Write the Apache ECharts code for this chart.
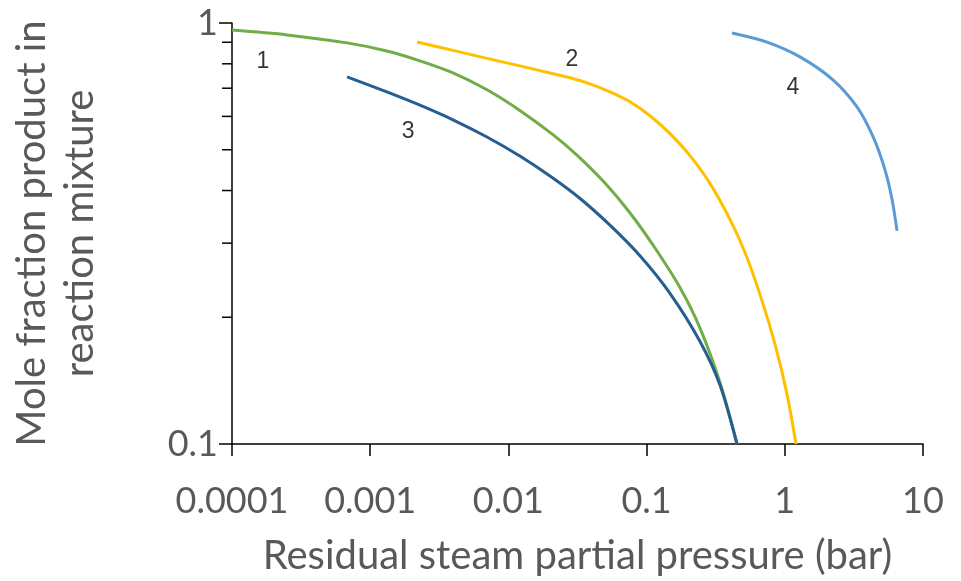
<!DOCTYPE html>
<html>
<head>
<meta charset="utf-8">
<script src="https://cdn.jsdelivr.net/npm/echarts@6/dist/echarts.min.js"></script>
<style>
  html, body { margin: 0; padding: 0; background: #fff; }
  #chart { width: 961px; height: 581px; }
</style>
</head>
<body>
<div id="chart"></div>
<script>
// curve 1 (green)
const curve1 = [
  [0.0001, 0.962], [0.00025, 0.937], [0.00068, 0.897], [0.00132, 0.858],
  [0.00229, 0.813], [0.00397, 0.761], [0.0070, 0.694], [0.0121, 0.620],
  [0.021, 0.543], [0.0319, 0.483], [0.050, 0.4166], [0.0759, 0.3537],
  [0.115, 0.2921], [0.175, 0.2348], [0.243, 0.1888], [0.34, 0.1398],
  [0.451, 0.1]
];
// curve 2 (yellow)
const curve2 = [
  [0.00218, 0.901], [0.00397, 0.861], [0.0070, 0.824], [0.0121, 0.791],
  [0.020, 0.761], [0.0279, 0.741], [0.0389, 0.717], [0.0543, 0.686],
  [0.0759, 0.650], [0.1058, 0.602], [0.1476, 0.546], [0.206, 0.484],
  [0.288, 0.4153], [0.4015, 0.3413], [0.515, 0.2851], [0.661, 0.2267],
  [0.849, 0.1726], [1.037, 0.1314], [1.205, 0.1]
];
// curve 3 (dark blue)
const curve3 = [
  [0.00068, 0.745], [0.00132, 0.686], [0.00229, 0.638], [0.00397, 0.589],
  [0.0070, 0.536], [0.0121, 0.483], [0.020, 0.433], [0.033, 0.383],
  [0.0543, 0.331], [0.0895, 0.280], [0.1476, 0.228], [0.243, 0.1754],
  [0.34, 0.1379], [0.451, 0.1]
];
// curve 4 (light blue)
const curve4 = [
  [0.415, 0.947], [0.743, 0.901], [1.288, 0.831], [2.23, 0.733],
  [3.33, 0.632], [4.35, 0.537], [5.31, 0.448], [5.97, 0.381], [6.49, 0.321]
];
const curveNames = ['1', '2', '3', '4'];
const curveLabelPos = [
  [0.000167, 0.808], [0.0288, 0.817], [0.00188, 0.552], [1.146, 0.701]
];
const xTickLabels = ['0.0001', '0.001', '0.01', '0.1', '1', '10'];
const yTickLabels = ['0.1', '1'];
const yMinorTicks = [0.2, 0.3, 0.4, 0.5, 0.6, 0.7, 0.8, 0.9];

const xMin = 0.0001, xMax = 10, yMin = 0.1, yMax = 1;
const fontFamily = 'Lato, "Open Sans", sans-serif';

const chart = echarts.init(document.getElementById('chart'));

const lineSeries = (name, data, color) => ({
  name,
  type: 'line',
  data,
  smooth: 0.3,
  showSymbol: false,
  symbol: 'none',
  lineStyle: { color, width: 3 },
  z: 3,
});

chart.setOption({
  animation: false,
  grid: { left: 232, right: 38, top: 23, bottom: 136 },
  xAxis: {
    type: 'log',
    logBase: 10,
    min: xMin,
    max: xMax,
    interval: 1,
    name: 'Residual steam partial pressure (bar)',
    nameLocation: 'middle',
    nameGap: 92,
    nameTextStyle: { color: '#595959', fontSize: 40, fontFamily },
    axisLine: { show: true, lineStyle: { color: '#000', width: 1.5 } },
    axisTick: { show: true, length: 12, lineStyle: { color: '#000', width: 1.5 } },
    axisLabel: {
      color: '#595959', fontSize: 36, fontFamily, margin: 39,
      formatter: (v) => xTickLabels[Math.round(Math.log10(v)) + 4],
    },
    splitLine: { show: false },
  },
  yAxis: {
    type: 'log',
    logBase: 10,
    min: yMin,
    max: yMax,
    name: 'Mole fraction product in\nreaction mixture',
    nameLocation: 'middle',
    nameGap: 128,
    nameRotate: 90,
    nameTextStyle: { color: '#595959', fontSize: 40, fontFamily, lineHeight: 48 },
    axisLine: { show: true, lineStyle: { color: '#000', width: 1.5 } },
    axisTick: { show: true, length: 13, lineStyle: { color: '#000', width: 1.5 } },
    axisLabel: {
      color: '#595959', fontSize: 36, fontFamily, margin: 14,
      formatter: (v) => yTickLabels[Math.round(Math.log10(v)) + 1],
    },
    splitLine: { show: false },
  },
  series: [
    lineSeries('1', curve1, '#70AD47'),
    lineSeries('2', curve2, '#FFC000'),
    lineSeries('3', curve3, '#255E91'),
    lineSeries('4', curve4, '#5B9BD5'),
    {
      // curve number labels
      type: 'scatter',
      data: curveLabelPos.map((p, i) => ({ value: p, name: curveNames[i] })),
      symbolSize: 0,
      silent: true,
      label: {
        show: true,
        position: 'inside',
        formatter: (p) => p.name,
        color: '#000',
        fontSize: 23,
        fontFamily: '"Liberation Sans", Arial, sans-serif',
      },
      z: 4,
    },
    {
      // minor ticks on the log y axis
      type: 'custom',
      data: yMinorTicks.map((v) => [xMin, v]),
      silent: true,
      clip: false,
      renderItem: (params, api) => {
        const p = api.coord([api.value(0), api.value(1)]);
        return {
          type: 'line',
          shape: { x1: p[0] - 10, y1: p[1], x2: p[0], y2: p[1] },
          style: { stroke: '#000', lineWidth: 1.5 },
        };
      },
      z: 5,
    },
  ],
});
</script>
</body>
</html>
